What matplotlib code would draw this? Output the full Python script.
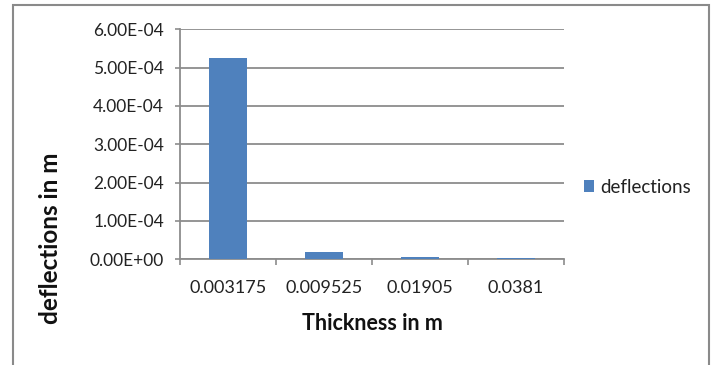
import matplotlib
matplotlib.use("Agg")
import matplotlib.pyplot as plt
from matplotlib.patches import Rectangle
from matplotlib.ticker import FuncFormatter, FixedLocator

# thickness vs. deflection
thickness = ["0.003175", "0.009525", "0.01905", "0.0381"]
deflections = [5.26e-4, 1.9e-5, 5e-6, 4e-6]
yticks = [0, 1e-4, 2e-4, 3e-4, 4e-4, 5e-4, 6e-4]

plt.rcParams['font.family'] = ['Lato', 'DejaVu Sans']

fig = plt.figure(figsize=(7.13, 3.65), dpi=100)
ax = fig.add_axes([0.2525, 0.290, 0.5385, 0.630])

bar_color = "#4F81BD"
grid_color = "#8c8c8c"
text_color = "#222222"
x = range(len(thickness))
ax.bar(x, deflections, width=0.4, color=bar_color, label="deflections", zorder=3)

ax.set_xlim(-0.5, len(thickness) - 0.5)
ax.set_ylim(0, 6e-4)
ax.set_yticks(yticks)
ax.yaxis.set_major_formatter(FuncFormatter(lambda v, p: "{:.2E}".format(v)))
ax.grid(axis="y", color=grid_color, lw=1.3, zorder=0)

# category labels in the middle, ticks on the boundaries
ax.set_xticks(list(x))
ax.set_xticklabels(thickness)
ax.xaxis.set_minor_locator(FixedLocator([i - 0.5 for i in range(len(thickness) + 1)]))
ax.tick_params(axis="x", which="major", length=0, pad=15, labelsize=13, colors=text_color)
ax.tick_params(axis="x", which="minor", length=4, width=1.2, color=grid_color)
ax.tick_params(axis="y", length=3.6, width=1.2, color=grid_color, pad=8,
               labelsize=12.5, labelcolor=text_color)

for side in ["top", "right"]:
    ax.spines[side].set_visible(False)
for side in ["left", "bottom"]:
    ax.spines[side].set_color(grid_color)
    ax.spines[side].set_linewidth(1.3)

ax.set_xlabel("Thickness in m", fontsize=15.5, fontweight="bold", color="#111111")
ax.set_ylabel("deflections in m", fontsize=17.5, fontweight="bold", color="#111111")
ax.xaxis.set_label_coords(0.5, -0.235)
ax.yaxis.set_label_coords(-0.307, 0.091)

fig.legend(loc="center left", bbox_to_anchor=(0.795, 0.487), frameon=False,
           fontsize=13.5, handlelength=0.55, handleheight=0.55, handletextpad=0.35,
           labelcolor=text_color)

# chart area border
fig.patches.append(Rectangle((13 / 713, -0.05), 696 / 713, 1.05 - 5 / 365,
                             transform=fig.transFigure, fill=False,
                             edgecolor="#8a8a8a", lw=1.5))

fig.savefig("out.png", dpi=100)
